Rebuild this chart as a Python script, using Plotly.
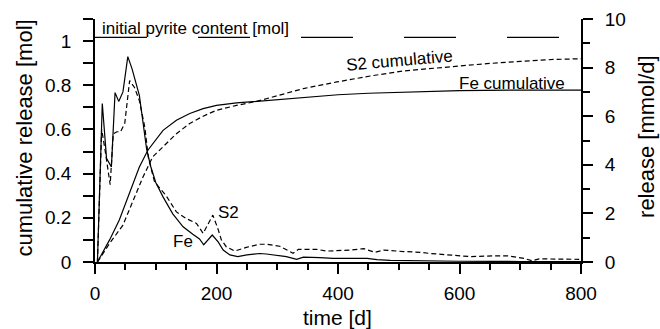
import plotly.graph_objects as go

# ---- data ----
# release rates, mmol/d (right axis)
fe_rel_t = [4, 12, 19, 27, 33, 39, 46, 54, 61, 73, 85, 92, 100, 112, 128, 145, 161, 172, 179, 193, 203, 211, 222, 235, 250, 271, 282, 315, 332, 343, 370, 392, 448, 464, 486, 535, 600, 700, 800]
fe_rel_v = [0.0, 6.52, 4.27, 3.91, 6.97, 6.61, 7.0, 8.45, 7.95, 6.86, 4.64, 3.91, 3.27, 2.68, 1.98, 1.45, 1.14, 0.95, 0.71, 1.11, 0.82, 0.49, 0.29, 0.22, 0.29, 0.35, 0.33, 0.22, 0.11, 0.2, 0.18, 0.15, 0.15, 0.1, 0.07, 0.05, 0.03, 0.02, 0.02]

s2_rel_t = [4, 11, 16, 20, 25, 30, 36, 42, 49, 57, 65, 73, 82, 88, 98, 117, 134, 150, 167, 178, 194, 203, 208, 216, 230, 249, 271, 282, 304, 326, 335, 365, 381, 420, 442, 461, 475, 508, 535, 552, 580, 618, 656, 679, 706, 720, 731, 755, 797]
s2_rel_v = [0.0, 5.45, 4.7, 4.1, 3.18, 5.27, 5.36, 5.36, 5.71, 7.47, 7.18, 6.64, 5.55, 4.27, 3.3, 2.73, 2.06, 1.79, 1.59, 1.18, 1.93, 1.32, 0.91, 0.63, 0.45, 0.6, 0.73, 0.73, 0.65, 0.36, 0.52, 0.52, 0.45, 0.49, 0.55, 0.4, 0.49, 0.43, 0.4, 0.35, 0.29, 0.22, 0.25, 0.25, 0.15, 0.05, 0.13, 0.13, 0.11]

# cumulative release, mol (left axis)
fe_cum_t = [4, 24, 40, 57, 73, 87, 112, 134, 156, 178, 200, 233, 266, 299, 350, 400, 450, 500, 552, 600, 700, 800]
fe_cum_v = [0.0, 0.1, 0.19, 0.31, 0.43, 0.506, 0.596, 0.642, 0.672, 0.694, 0.709, 0.72, 0.727, 0.737, 0.748, 0.757, 0.764, 0.769, 0.774, 0.776, 0.778, 0.778]

s2_cum_t = [4, 24, 46, 62, 79, 95, 112, 134, 156, 178, 200, 233, 266, 299, 343, 398, 453, 508, 552, 590, 645, 700, 755, 800]
s2_cum_v = [0.0, 0.084, 0.167, 0.272, 0.385, 0.476, 0.521, 0.581, 0.627, 0.66, 0.687, 0.709, 0.727, 0.751, 0.785, 0.815, 0.842, 0.865, 0.876, 0.885, 0.898, 0.908, 0.917, 0.92]

initial_pyrite = 1.017
time_span = [0, 800]

x_title = "time [d]"
y_title = "cumulative release [mol]"
y2_title = "release [mmol/d]"

FONT = "Arial, Liberation Sans, sans-serif"
BLACK = "black"

fig = go.Figure()

fig.add_trace(go.Scatter(x=time_span, y=[initial_pyrite, initial_pyrite], mode="lines",
                         line=dict(color=BLACK, width=1.1, dash="52px,51px"), yaxis="y"))
fig.add_trace(go.Scatter(x=fe_cum_t, y=fe_cum_v, mode="lines", line=dict(color=BLACK, width=1.2), yaxis="y"))
fig.add_trace(go.Scatter(x=s2_cum_t, y=s2_cum_v, mode="lines", line=dict(color=BLACK, width=1.2, dash="5px,3px"), yaxis="y"))
fig.add_trace(go.Scatter(x=fe_rel_t, y=fe_rel_v, mode="lines", line=dict(color=BLACK, width=1.2), yaxis="y2"))
fig.add_trace(go.Scatter(x=s2_rel_t, y=s2_rel_v, mode="lines", line=dict(color=BLACK, width=1.2, dash="5px,3px"), yaxis="y2"))

ann_font = dict(family=FONT, size=17, color=BLACK)
annotations = [
    dict(x=166, y=1.057, text="initial pyrite content [mol]", textangle=0),
    dict(x=502, y=0.913, text="S2 cumulative", textangle=-5),
    dict(x=687, y=0.809, text="Fe cumulative", textangle=0),
    dict(x=219, y=0.226, text="S2", textangle=0),
    dict(x=145, y=0.095, text="Fe", textangle=0),
]
for a in annotations:
    fig.add_annotation(x=a["x"], y=a["y"], xref="x", yref="y", text=a["text"], showarrow=False,
                       textangle=a["textangle"], font=ann_font, xanchor="center", yanchor="middle")

# axis titles
title_font = dict(family=FONT, size=22, color=BLACK)
fig.add_annotation(x=0.498, y=-0.228, xref="paper", yref="paper", text=x_title, showarrow=False,
                   font=dict(family=FONT, size=21, color=BLACK), xanchor="center", yanchor="middle", borderpad=0)
fig.add_annotation(x=-0.144, y=0.508, xref="paper", yref="paper", text=y_title, showarrow=False,
                   textangle=-90, font=title_font, xanchor="center", yanchor="middle")
fig.add_annotation(x=1.136, y=0.515, xref="paper", yref="paper", text=y2_title, showarrow=False,
                   textangle=-90, font=title_font, xanchor="center", yanchor="middle")

axis_common = dict(showline=True, linecolor=BLACK, linewidth=1.8, ticks="outside", ticklen=10,
                   tickwidth=1.8, tickcolor=BLACK, showgrid=False, zeroline=False, automargin=False,
                   tickfont=dict(family=FONT, size=19, color=BLACK))

fig.update_layout(
    width=660, height=329, autosize=False,
    margin=dict(l=95, r=79, t=19, b=67, autoexpand=False),
    paper_bgcolor="white", plot_bgcolor="white",
    showlegend=False,
    xaxis=dict(range=[0, 800], tick0=0, dtick=200, ticklabelstandoff=3,
               minor=dict(dtick=50, ticks="outside", ticklen=6, tickwidth=1.8, tickcolor=BLACK),
               **axis_common),
    yaxis=dict(range=[0, 1.1], tick0=0, dtick=0.2, ticklabelstandoff=8,
               minor=dict(dtick=0.1, ticks="outside", ticklen=10, tickwidth=1.8, tickcolor=BLACK),
               **axis_common),
    yaxis2=dict(range=[0, 10], tick0=0, dtick=2, overlaying="y", side="right", ticklabelstandoff=8,
                minor=dict(dtick=1, ticks="outside", ticklen=7, tickwidth=1.8, tickcolor=BLACK),
                **axis_common),
)

fig.write_html("out.html")
